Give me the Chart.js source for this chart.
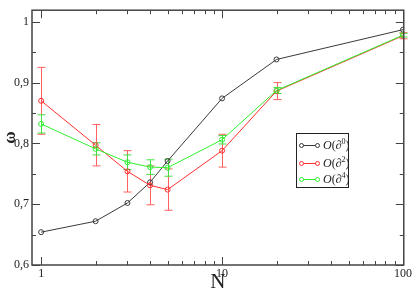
<!DOCTYPE html>
<html>
<head>
<meta charset="utf-8">
<script src="https://cdn.jsdelivr.net/npm/chart.js@4"></script>
<style>
    body { margin: 0; background: #fff; }
    #wrap { position: relative; width: 414px; height: 295px; }
    #legend {
        position: absolute; left: 296px; top: 133px; width: 53px; height: 55px;
        border: 1px solid #222; background: #fff; box-sizing: border-box;
        font-family: "Liberation Serif", serif; font-size: 12px; color: #222;
    }
    .row { position: absolute; left: 0; height: 14px; line-height: 14px; white-space: nowrap; }
    .row .ln { position: absolute; left: 4px; top: 7px; width: 17px; height: 0; border-top: 1px solid; }
    .row .dot { position: absolute; top: 5px; width: 3px; height: 3px; border: 1px solid; border-radius: 50%; background: #fff; }
    .row .txt { position: absolute; left: 26px; top: 0; }
    .row sup { font-size: 8px; vertical-align: 5px; line-height: 0; }
</style>
</head>
<body>
<div id="wrap">
    <canvas id="chart1"></canvas>
    <div id="legend"></div>
</div>
<script>
var n_values = [1, 2, 3, 4, 5, 10, 20, 100];

var omega_d0 = [0.654, 0.672, 0.702, 0.736, 0.771, 0.874, 0.938, 0.987];

var omega_d2 = [0.870, 0.797, 0.754, 0.731, 0.724, 0.788, 0.886, 0.977];
var err_d2 = [0.055, 0.034, 0.034, 0.032, 0.034, 0.027, 0.014, 0.005];

var omega_d4 = [0.832, 0.791, 0.769, 0.761, 0.760, 0.806, 0.887, 0.978];
var err_d4 = [0.015, 0.010, 0.012, 0.012, 0.014, 0.007, 0.005, 0.003];

var series_labels = ['0', '2', '4'];
var x_ticks = [1, 10, 100];
var x_tick_labels = ['1', '10', '100'];
var y_ticks = [0.6, 0.7, 0.8, 0.9, 1.0];
var y_tick_labels = ['0,6', '0,7', '0,8', '0,9', '1'];

var colors = ['#3a3a3a', '#ff3030', '#30f030'];
var err_colors = [null, '#ff6060', '#40e040'];

function toPoints(ys) {
    return n_values.map((x, i) => ({ x: x, y: ys[i] }));
}

// error bars, frame and inward ticks (major + minor, mirrored)
var framePlugin = {
    id: 'frame',
    beforeDatasetsDraw(chart) {
        var ctx = chart.ctx;
        var xs = chart.scales.x, ys = chart.scales.y;
        ctx.save();
        chart.data.datasets.forEach((ds, di) => {
            if (!ds.err) return;
            ctx.strokeStyle = err_colors[di];
            ctx.lineWidth = 1;
            ds.data.forEach((p, i) => {
                var px = Math.round(xs.getPixelForValue(p.x)) + 0.5;
                var top = ys.getPixelForValue(p.y + ds.err[i]);
                var bot = ys.getPixelForValue(p.y - ds.err[i]);
                ctx.beginPath();
                ctx.moveTo(px, top); ctx.lineTo(px, bot);
                ctx.moveTo(px - 4, top); ctx.lineTo(px + 4, top);
                ctx.moveTo(px - 4, bot); ctx.lineTo(px + 4, bot);
                ctx.stroke();
            });
        });
        ctx.restore();
    },
    afterDraw(chart) {
        var ctx = chart.ctx;
        var a = chart.chartArea;
        var xs = chart.scales.x, ys = chart.scales.y;
        ctx.save();
        ctx.strokeStyle = '#444';
        ctx.lineWidth = 1.5;
        ctx.strokeRect(a.left, a.top, a.right - a.left, a.bottom - a.top);
        ctx.lineWidth = 1;
        ctx.beginPath();
        // y ticks
        for (var v = 0.6; v <= 1.0001; v += 0.05) {
            var major = Math.abs(v * 10 - Math.round(v * 10)) < 0.01;
            var len = major ? 8 : 4;
            var py = Math.round(ys.getPixelForValue(v)) + 0.5;
            ctx.moveTo(a.left, py); ctx.lineTo(a.left + len, py);
            ctx.moveTo(a.right, py); ctx.lineTo(a.right - len, py);
        }
        // x ticks (log)
        [1, 10].forEach(dec => {
            for (var k = 1; k <= 10; k++) {
                var val = dec * k;
                if (dec === 10 && k === 1) continue;
                var len2 = (k === 1 || k === 10) ? 8 : 4;
                var px = Math.round(xs.getPixelForValue(val)) + 0.5;
                ctx.moveTo(px, a.bottom); ctx.lineTo(px, a.bottom - len2);
                ctx.moveTo(px, a.top); ctx.lineTo(px, a.top + len2);
            }
        });
        ctx.stroke();
        ctx.restore();
    }
};

var datasets = [
    { data: toPoints(omega_d0), err: null },
    { data: toPoints(omega_d2), err: err_d2 },
    { data: toPoints(omega_d4), err: err_d4 }
].map((d, i) => ({
    label: 'O(∂' + series_labels[i] + ')',
    data: d.data,
    err: d.err,
    borderColor: colors[i],
    backgroundColor: 'rgba(255,255,255,0)',
    pointBorderColor: colors[i],
    pointBackgroundColor: 'rgba(255,255,255,0)',
    borderWidth: 1,
    pointRadius: 2.5,
    pointBorderWidth: 1,
    tension: 0,
    order: 2 - i
}));

new Chart(document.getElementById('chart1').getContext('2d'), {
    type: 'line',
    data: { datasets: datasets },
    plugins: [framePlugin],
    options: {
        responsive: true,
        maintainAspectRatio: false,
        animation: false,
        layout: { padding: { top: 1, right: 8, left: 0, bottom: 0 } },
        plugins: { legend: { display: false }, tooltip: { enabled: false } },
        scales: {
            x: {
                type: 'logarithmic',
                min: 0.89,
                max: 101,
                grid: { display: false, drawTicks: false },
                border: { display: false },
                afterBuildTicks: s => { s.ticks = x_ticks.map(v => ({ value: v })); },
                afterFit: s => { s.height = 30; },
                ticks: {
                    autoSkip: false, maxRotation: 0, padding: 2,
                    color: '#222',
                    font: { family: 'Liberation Serif', size: 12 },
                    callback: v => x_tick_labels[x_ticks.indexOf(v)]
                },
                title: {
                    display: true, text: 'N', color: '#222', padding: { top: 0, bottom: 0 },
                    font: { family: 'Liberation Serif', size: 21 }
                }
            },
            y: {
                min: 0.6,
                max: 1.019,
                grid: { display: false, drawTicks: false },
                border: { display: false },
                afterBuildTicks: s => { s.ticks = y_ticks.map(v => ({ value: v })); },
                afterFit: s => { s.width = 32; },
                ticks: {
                    autoSkip: false, padding: 3,
                    color: '#222',
                    font: { family: 'Liberation Serif', size: 12 },
                    callback: (v, i) => y_tick_labels[i]
                },
                title: {
                    display: true, text: 'ω', color: '#222', padding: 0,
                    font: { family: 'Liberation Serif', size: 17, weight: 'bold' }
                }
            }
        }
    }
});

// legend with superscripts
var legend = document.getElementById('legend');
var rowTops = [4, 22, 38];
series_labels.forEach((s, i) => {
    var row = document.createElement('div');
    row.className = 'row';
    row.style.top = rowTops[i] + 'px';
    row.style.color = colors[i];
    row.innerHTML = '<span class="ln"></span>' +
        '<span class="dot" style="left:2px"></span><span class="dot" style="left:18px"></span>' +
        '<span class="txt" style="color:#222"><i>O</i>(∂<sup>' + s + '</sup>)</span>';
    legend.appendChild(row);
});
</script>
</body>
</html>
